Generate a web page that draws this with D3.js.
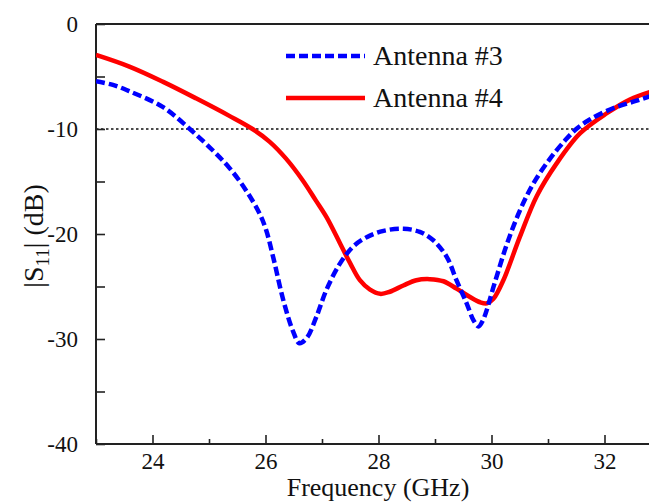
<!DOCTYPE html>
<html>
<head>
<meta charset="utf-8">
<script src="https://cdn.jsdelivr.net/npm/d3@7"></script>
<style>
  body { margin: 0; background: #fff; }
  svg text { font-family: "Liberation Serif", "Times New Roman", serif; fill: #111; }
</style>
</head>
<body>
<script>
var w = 649;
var h = 502;

// values
var freq3 = [23.0, 23.3, 23.59, 24.18, 24.65, 25.06, 25.36, 25.65, 25.89, 26.01, 26.14, 26.32, 26.49, 26.6, 26.73, 26.9, 27.08, 27.32, 27.55, 27.79, 28.09, 28.44, 28.73, 28.97, 29.21, 29.38, 29.56, 29.68, 29.77, 29.85, 30.06, 30.27, 30.5, 30.74, 31.04, 31.3, 31.5, 31.74, 32.16, 32.51, 32.8];
var s11_3 = [-5.45, -5.8, -6.4, -7.9, -9.95, -12.0, -13.7, -15.8, -18.0, -19.6, -22.3, -26.4, -29.3, -30.4, -29.9, -27.9, -25.3, -22.8, -21.2, -20.3, -19.7, -19.5, -19.8, -20.6, -22.2, -24.4, -26.6, -28.2, -28.8, -28.2, -24.6, -21.0, -17.8, -15.2, -12.8, -11.1, -10.0, -9.1, -8.0, -7.4, -6.9];

var freq4 = [23.0, 23.59, 24.18, 24.77, 25.36, 25.77, 26.07, 26.36, 26.66, 26.89, 27.08, 27.32, 27.5, 27.67, 27.85, 28.03, 28.2, 28.44, 28.67, 28.91, 29.15, 29.38, 29.62, 29.8, 29.92, 30.03, 30.21, 30.5, 30.8, 31.15, 31.57, 32.04, 32.45, 32.8];
var s11_4 = [-2.95, -4.06, -5.49, -7.08, -8.75, -10.0, -11.2, -12.8, -14.9, -16.8, -18.4, -20.9, -22.8, -24.4, -25.3, -25.7, -25.5, -24.9, -24.4, -24.3, -24.5, -25.2, -26.0, -26.5, -26.6, -26.2, -24.4, -20.3, -16.4, -13.3, -10.4, -8.5, -7.2, -6.5];

var xTicks = [24, 26, 28, 30, 32];
var xMinorTicks = [23, 25, 27, 29, 31, 33];
var yTicks = [0, -10, -20, -30, -40];
var yMinorTicks = [-5, -15, -25, -35];
var legendNames = ["Antenna #3", "Antenna #4"];

var serif = "Liberation Serif, Times New Roman, serif";

var svg = d3.select("body")
            .append("svg")
            .attr("width", w)
            .attr("height", h);

var xscale = d3.scaleLinear()
                .domain([23, 33])
                .range([96, 661]);

var yscale = d3.scaleLinear()
                .domain([-40, 0])
                .range([444, 24]);

svg.append("clipPath").attr("id", "plot")
    .append("rect")
    .attr("x", 96).attr("y", 24)
    .attr("width", 565).attr("height", 420);

// -10 dB reference line
svg.append("line")
    .attr("x1", xscale(23)).attr("x2", xscale(33))
    .attr("y1", yscale(-10)).attr("y2", yscale(-10))
    .attr("stroke", "#111")
    .attr("stroke-width", 1.6)
    .attr("stroke-dasharray", "2.5,2.5");

// axes with inward ticks
var xAxis = svg.append("g")
    .attr("transform", "translate(0,444)")
    .call(d3.axisBottom(xscale).tickValues(xTicks).tickSize(-9).tickPadding(20)
        .tickFormat(function(d) { return String(d); }));

svg.append("g")
    .attr("transform", "translate(0,444)")
    .call(d3.axisBottom(xscale).tickValues(xMinorTicks).tickSize(-5).tickFormat(""));

var yAxis = svg.append("g")
    .attr("transform", "translate(96,0)")
    .call(d3.axisLeft(yscale).tickValues(yTicks).tickSize(-9).tickPadding(18)
        .tickFormat(function(d) { return String(d); }));

svg.append("g")
    .attr("transform", "translate(96,0)")
    .call(d3.axisLeft(yscale).tickValues(yMinorTicks).tickSize(-9).tickFormat(""));

// d3 puts sans-serif on the axis groups, switch them to serif
xAxis.attr("font-family", serif).attr("font-size", 23);
yAxis.attr("font-family", serif).attr("font-size", 23);
svg.selectAll(".domain").remove();
svg.selectAll(".tick line").attr("stroke", "#222").attr("stroke-width", 1.6);
svg.selectAll(".tick text").attr("fill", "#111");
xAxis.selectAll(".tick text").attr("y", 9);

// frame lines
svg.append("line").attr("x1", 96).attr("x2", 96).attr("y1", 24).attr("y2", 444)
    .attr("stroke", "#222").attr("stroke-width", 2);
svg.append("line").attr("x1", 96).attr("x2", 661).attr("y1", 444).attr("y2", 444)
    .attr("stroke", "#222").attr("stroke-width", 2);
svg.append("line").attr("x1", 96).attr("x2", 661).attr("y1", 24).attr("y2", 24)
    .attr("stroke", "#222").attr("stroke-width", 2);

var line = d3.line()
    .x(function(d) { return xscale(d[0]); })
    .y(function(d) { return yscale(d[1]); })
    .curve(d3.curveCatmullRom.alpha(0.5));

svg.append("path")
    .datum(d3.zip(freq4, s11_4))
    .attr("clip-path", "url(#plot)")
    .attr("d", line)
    .attr("fill", "none")
    .attr("stroke", "#ff0000")
    .attr("stroke-width", 4.5);

svg.append("path")
    .datum(d3.zip(freq3, s11_3))
    .attr("clip-path", "url(#plot)")
    .attr("d", line)
    .attr("fill", "none")
    .attr("stroke", "#0000ff")
    .attr("stroke-width", 4.5)
    .attr("stroke-dasharray", "9,4");

// legend
var legend = svg.append("g");
legend.append("line")
    .attr("x1", 286).attr("x2", 365).attr("y1", 56).attr("y2", 56)
    .attr("stroke", "#0000ff").attr("stroke-width", 4.5).attr("stroke-dasharray", "9,4");
legend.append("line")
    .attr("x1", 286).attr("x2", 365).attr("y1", 98).attr("y2", 98)
    .attr("stroke", "#ff0000").attr("stroke-width", 4.5);
legend.selectAll("text.leg")
    .data(legendNames)
    .enter()
    .append("text")
    .attr("class", "leg")
    .attr("x", 373)
    .attr("y", function(d, i) { return 65 + i * 42; })
    .style("font-size", "28px")
    .text(function(d) { return d; });

// axis titles
svg.append("text")
    .attr("x", 378)
    .attr("y", 496)
    .attr("text-anchor", "middle")
    .style("font-size", "26px")
    .text("Frequency (GHz)");

var ytitle = svg.append("text")
    .attr("transform", "translate(43,236) rotate(-90)")
    .attr("text-anchor", "middle")
    .style("font-size", "28px");
ytitle.append("tspan").text("|S");
ytitle.append("tspan").attr("dy", 6).style("font-size", "19px").text("11");
ytitle.append("tspan").attr("dy", -6).text("| (dB)");
</script>
</body>
</html>
